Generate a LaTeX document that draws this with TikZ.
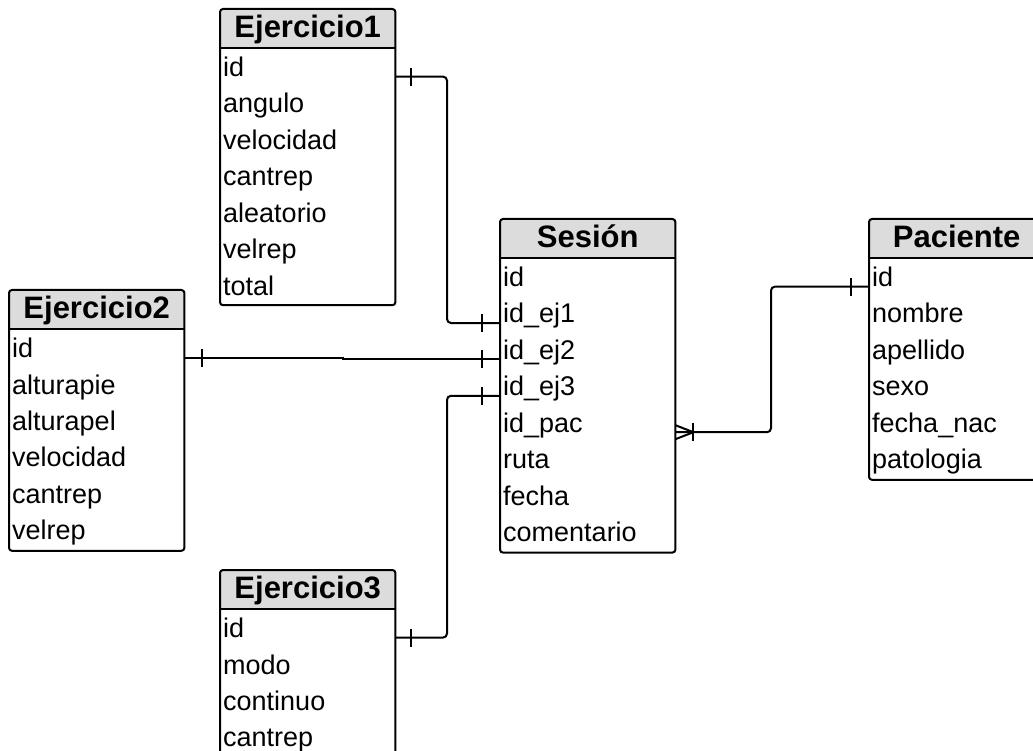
\documentclass[tikz,border=0pt]{standalone}
\usepackage{fontspec}
\setmainfont{Liberation Sans}
\usetikzlibrary{positioning}
\definecolor{headgray}{RGB}{220,220,220}
\pgfmathsetmacro{\tabwidth}{175}
\pgfmathsetmacro{\rowtextwidth}{\tabwidth-6}
\pgfmathsetmacro{\marklen}{9}
\tikzset{
  tabhead/.style={fill=headgray, rounded corners=3pt, minimum width=\tabwidth pt,
    minimum height=39pt, inner sep=0pt, text height=24pt, text depth=6pt,
    font=\bfseries\fontsize{31}{36}\selectfont},
  tabrow/.style={inner xsep=3pt, inner ysep=0pt, text width=\rowtextwidth pt,
    align=left, text height=28pt, text depth=8pt, font=\fontsize{27}{32}\selectfont},
  tabframe/.style={line width=2pt, rounded corners=3pt},
  relation/.style={line width=2pt, rounded corners=4pt},
  cardmark/.style={line width=2pt},
}

\begin{document}
\begin{tikzpicture}[x=1pt, y=-1pt]
    \useasboundingbox (0,0) rectangle (1033,751);
    % define tables
    % Ejercicio1
    \node[tabhead, anchor=north west] (ej1) at (220,9) {Ejercicio1};
    \node[tabrow, below=0pt of ej1] (ej1_id) {id};
    \node[tabrow, below=0pt of ej1_id] (ej1_ang) {angulo};
    \node[tabrow, below=0pt of ej1_ang] (ej1_vel) {velocidad};
    \node[tabrow, below=0pt of ej1_vel] (ej1_cant) {cantrep};
    \node[tabrow, below=0pt of ej1_cant] (ej1_alea) {aleatorio};
    \node[tabrow, below=0pt of ej1_alea] (ej1_velrep) {velrep};
    \node[tabrow, below=0pt of ej1_velrep] (ej1_tot) {total};
    % Ejercicio2
    \node[tabhead, anchor=north west] (ej2) at (9,290) {Ejercicio2};
    \node[tabrow, below=0pt of ej2] (ej2_id) {id};
    \node[tabrow, below=0pt of ej2_id] (ej2_pie) {alturapie};
    \node[tabrow, below=0pt of ej2_pie] (ej2_pel) {alturapel};
    \node[tabrow, below=0pt of ej2_pel] (ej2_vel) {velocidad};
    \node[tabrow, below=0pt of ej2_vel] (ej2_cant) {cantrep};
    \node[tabrow, below=0pt of ej2_cant] (ej2_velrep) {velrep};
    % Ejercicio3
    \node[tabhead, anchor=north west] (ej3) at (220,570) {Ejercicio3};
    \node[tabrow, below=0pt of ej3] (ej3_id) {id};
    \node[tabrow, below=0pt of ej3_id] (ej3_modo) {modo};
    \node[tabrow, below=0pt of ej3_modo] (ej3_cont) {continuo};
    \node[tabrow, below=0pt of ej3_cont] (ej3_cant) {cantrep};
    % Sesion
    \node[tabhead, anchor=north west] (ses) at (500,219) {Sesión};
    \node[tabrow, below=0pt of ses] (ses_id) {id};
    \node[tabrow, below=0pt of ses_id] (ses_ej1) {id\_ej1};
    \node[tabrow, below=0pt of ses_ej1] (ses_ej2) {id\_ej2};
    \node[tabrow, below=0pt of ses_ej2] (ses_ej3) {id\_ej3};
    \node[tabrow, below=0pt of ses_ej3] (ses_pac) {id\_pac};
    \node[tabrow, below=0pt of ses_pac] (ses_ruta) {ruta};
    \node[tabrow, below=0pt of ses_ruta] (ses_fecha) {fecha};
    \node[tabrow, below=0pt of ses_fecha] (ses_com) {comentario};
    % Paciente
    \node[tabhead, anchor=north west] (pac) at (869,219) {Paciente};
    \node[tabrow, below=0pt of pac] (pac_id) {id};
    \node[tabrow, below=0pt of pac_id] (pac_nom) {nombre};
    \node[tabrow, below=0pt of pac_nom] (pac_ape) {apellido};
    \node[tabrow, below=0pt of pac_ape] (pac_sexo) {sexo};
    \node[tabrow, below=0pt of pac_sexo] (pac_fnac) {fecha\_nac};
    \node[tabrow, below=0pt of pac_fnac] (pac_pat) {patologia};
    % draw frames
    \draw[tabframe] (ej1.north west) rectangle ([yshift=-2pt]ej1_tot.south east);
    \draw[tabframe] (ej2.north west) rectangle ([yshift=-3pt]ej2_velrep.south east);
    \draw[tabframe] (ej3.north west) rectangle (ej3_cant.south east);
    \draw[tabframe] (ses.north west) rectangle ([yshift=-3pt]ses_com.south east);
    \draw[tabframe] (pac.north west) rectangle ([yshift=-3pt]pac_pat.south east);
    \draw[line width=2pt] (ej1.south west) -- (ej1.south east);
    \draw[line width=2pt] (ej2.south west) -- (ej2.south east);
    \draw[line width=2pt] (ej3.south west) -- (ej3.south east);
    \draw[line width=2pt] (ses.south west) -- (ses.south east);
    \draw[line width=2pt] (pac.south west) -- (pac.south east);
    % draw relations
    \coordinate (ejbus) at (447,0);
    \coordinate (ej2jog) at (343,0);
    \coordinate (pacbus) at (771,0);
    \draw[relation] (ej1_id.base east) -- (ej1_id.base east -| ejbus)
        -- (ses_ej1.base west -| ejbus) -- (ses_ej1.base west);
    \draw[line width=2pt] (ej2_id.base east) -- (ej2_id.base east -| ej2jog)
        -- (ses_ej2.base west -| ej2jog) -- (ses_ej2.base west);
    \draw[relation] (ej3_id.base east) -- (ej3_id.base east -| ejbus)
        -- (ses_ej3.base west -| ejbus) -- (ses_ej3.base west);
    \draw[relation] (ses_pac.base east) -- (ses_pac.base east -| pacbus)
        -- (pac_id.base west -| pacbus) -- (pac_id.base west);
    % add cardinality marks
    \draw[cardmark] ([xshift=16pt]ej1_id.base east) ++(0,-\marklen) -- ++(0,2*\marklen);
    \draw[cardmark] ([xshift=-18pt]ses_ej1.base west) ++(0,-\marklen) -- ++(0,2*\marklen);
    \draw[cardmark] ([xshift=18pt]ej2_id.base east) ++(0,-\marklen) -- ++(0,2*\marklen);
    \draw[cardmark] ([xshift=-18pt]ses_ej2.base west) ++(0,-\marklen) -- ++(0,2*\marklen);
    \draw[cardmark] ([xshift=16pt]ej3_id.base east) ++(0,-\marklen) -- ++(0,2*\marklen);
    \draw[cardmark] ([xshift=-18pt]ses_ej3.base west) ++(0,-\marklen) -- ++(0,2*\marklen);
    \draw[cardmark] ([xshift=-18pt]pac_id.base west) ++(0,-\marklen) -- ++(0,2*\marklen);
    \draw[cardmark] ([xshift=18pt]ses_pac.base east) ++(0,-\marklen) -- ++(0,2*\marklen);
    \draw[cardmark] ([yshift=7pt]ses_pac.base east) -- ([xshift=18pt]ses_pac.base east)
        -- ([yshift=-7pt]ses_pac.base east);
\end{tikzpicture}
\end{document}
